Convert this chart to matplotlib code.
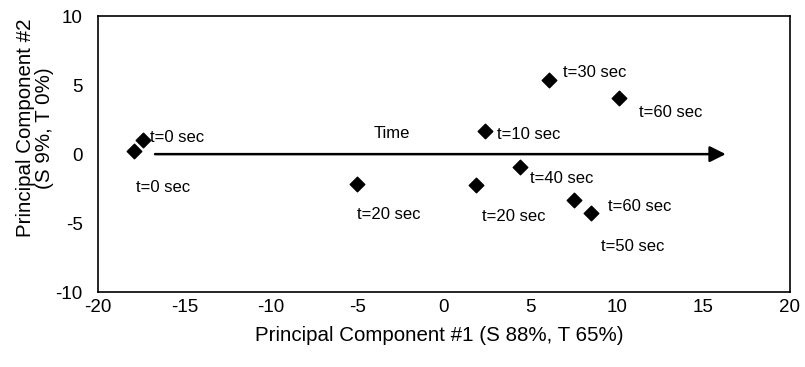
import matplotlib.pyplot as plt

plt.rcParams['font.family'] = ['Liberation Sans', 'DejaVu Sans']
plt.rcParams['axes.unicode_minus'] = False

# scores on the first two principal components
pc1 = [-17.9, -17.4, -5.0, 1.85, 2.4, 4.4, 6.1, 7.5, 8.5, 10.1]
pc2 = [0.2, 1.0, -2.2, -2.25, 1.7, -0.9, 5.4, -3.3, -4.3, 4.1]

# point labels and where they sit
labels = ["t=0 sec", "t=0 sec", "t=20 sec", "t=20 sec", "t=10 sec",
          "t=40 sec", "t=30 sec", "t=60 sec", "t=50 sec", "t=60 sec"]
label_x = [-17.8, -17.0, -5.0, 2.2, 3.1, 5.0, 6.9, 9.5, 9.1, 11.3]
label_y = [-2.4, 1.2, -4.4, -4.5, 1.45, -1.75, 5.9, -3.8, -6.7, 3.0]

arrow_start = (-16.7, 0)
arrow_end = (16.3, 0)

fig = plt.figure(figsize=(8.05, 3.67), dpi=100)
ax = fig.add_axes([0.1217, 0.204, 0.8593, 0.752])

ax.scatter(pc1, pc2, marker='D', s=55, color='black', zorder=3)
for lx, ly, t in zip(label_x, label_y, labels):
    ax.text(lx, ly, t, fontsize=12, ha='left', va='center')

ax.annotate('', xy=arrow_end, xytext=arrow_start,
            arrowprops=dict(arrowstyle='-|>', color='black', lw=1.8,
                            mutation_scale=24, shrinkA=0, shrinkB=0))
ax.text(-3.0, 1.5, 'Time', fontsize=12, ha='center', va='center')

ax.set_xlim(-20, 20)
ax.set_ylim(-10, 10)
ax.set_xticks(range(-20, 21, 5))
ax.set_yticks(range(-10, 11, 5))
ax.tick_params(axis='x', length=0, labelsize=13.5, pad=5)
ax.tick_params(axis='y', length=0, labelsize=13.5, pad=11)
ax.set_xlabel('Principal Component #1 (S 88%, T 65%)', fontsize=14.8)
ax.set_ylabel('Principal Component #2\n(S 9%, T 0%)', fontsize=14.8,
              linespacing=1.0)
ax.xaxis.set_label_coords(0.494, -0.123)
ax.yaxis.set_label_coords(-0.064, 0.594)
for s in ax.spines.values():
    s.set_linewidth(1.2)

plt.savefig('out.png')
